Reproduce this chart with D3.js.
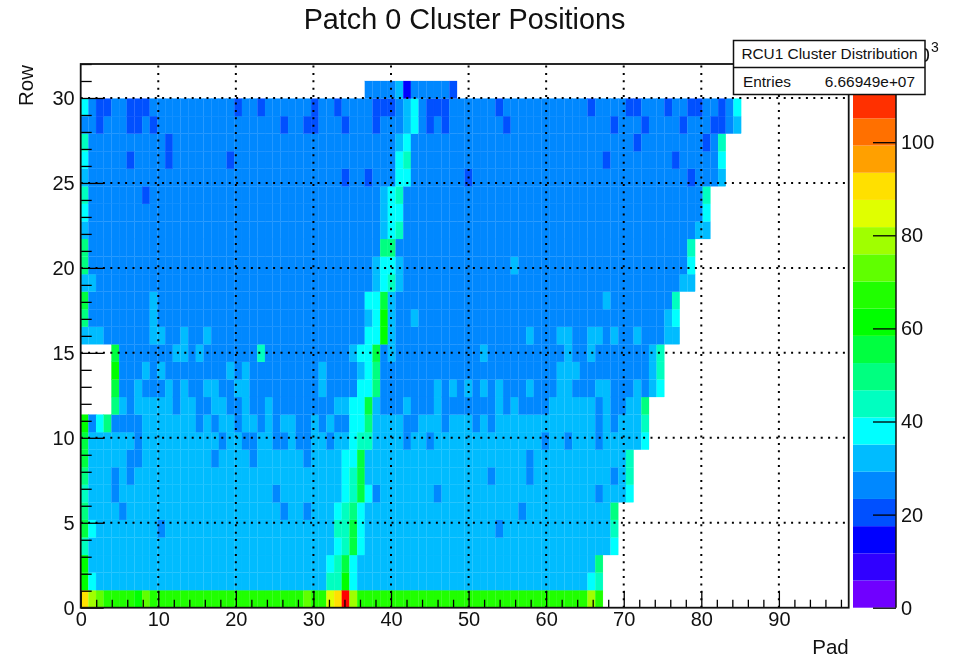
<!DOCTYPE html>
<html>
<head>
<meta charset="utf-8">
<title>Patch 0 Cluster Positions</title>
<script src="https://cdnjs.cloudflare.com/ajax/libs/d3/7.8.5/d3.min.js"></script>
<style>
body { margin: 0; background: #fff; }
svg { filter: blur(0.4px); }
text { font-family: "Liberation Sans", sans-serif; fill: #111; }
.domain { display: none; }
</style>
</head>
<body>
<div id="chart-area"></div>
<script>
var xTicks = [0, 10, 20, 30, 40, 50, 60, 70, 80, 90];
var yTicks = [0, 5, 10, 15, 20, 25, 30];
var zTicks = [0, 20, 40, 60, 80, 100];

var palette = ["#7000ff", "#3000ff", "#0000ff", "#0050ff", "#0088ff", "#00bcff", "#00ffff",
    "#00ffc0", "#00ff80", "#00ff40", "#00ff00", "#20ff00", "#60ff00", "#a0ff00", "#e0ff00",
    "#ffe000", "#ffa000", "#ff7000", "#ff3000", "#ff0000"];

// First and last filled bin, and usual level, for each row (bottom row first)
var rowFirst = [0,0,0,0,0,0,0,0,0,0,0,4,4,4,4,0,0,0,0,0,0,0,0,0,0,0,0,0,0,37];
var rowLast = [67,67,67,69,69,69,71,71,71,73,73,73,75,75,75,77,77,77,79,79,79,81,81,81,83,83,83,85,85,48];
var rowLevel = [67,32,32,32,32,32,32,32,32,32,32,26,26,26,26,26,26,26,26,26,26,26,26,26,26,26,26,26,26,26];

// Bins that differ from the row level: [value, [bins]]
var rowOutliers = [
    [[91,[0,33]], [79,[1,35,66]], [73,[2,8,29]], [61,[7]], [85,[32]], [114,[34]]],
    [[61,[0,34]], [38,[1,35,66]], [44,[32,33,67]]],
    [[61,[0]], [38,[32,35]], [44,[33]], [55,[34]], [50,[67]]],
    [[44,[0,34]], [38,[33,36,69]], [55,[35]]],
    [[55,[0,35]], [38,[1,36]], [26,[10,54]], [44,[33,34,69]]],
    [[50,[0,69]], [26,[5,26,29,57]], [38,[33,36]], [44,[34]], [50,[35]]],
    [[44,[0]], [26,[4,25,38,46,67]], [38,[34,37,71]], [44,[35]], [55,[36]]],
    [[50,[0]], [26,[4,6,53,58,69]], [38,[34]], [44,[35,71]], [55,[36]]],
    [[55,[0]], [26,[6,7,17,22,29,58]], [38,[34,35]], [55,[36]], [44,[71]]],
    [[55,[0]], [26,[7,18,21,22,25,26,28,29,32,42,45,60,63,67]], [38,[35,73]], [44,[36,37]]],
    [[61,[0]], [26,[1,4,5,6,7,15,17,20,23,25,28,29,31,33,34,42,43,47,51,53,67,69]], [38,[2,35,36]], [50,[3,37]], [44,[73]]],
    [[50,[4,73]], [32,[5,7,8,9,10,11,13,14,17,18,21,24,33,34,38,42,46,54,56,61,62,63,64,65,66,68,71,72]], [38,[35,36]], [55,[37]]],
    [[55,[4]], [32,[7,11,13,16,17,20,21,31,36,46,48,50,52,54,58,62,63,67,68,72,74]], [38,[36,37]], [50,[38]], [38,[75]]],
    [[61,[4]], [32,[8,10,19,21,31,36,62,63,64,74]], [38,[37]], [50,[38]], [44,[75]]],
    [[55,[4]], [32,[12,13,15,35,40,52,63,66,74]], [44,[23,75]], [38,[36,37]], [55,[38]]],
    [[32,[0,1,2,9,10,13,16,40,58,62,63,66,67,69,72,76,77]], [38,[37,38]], [61,[39]]],
    [[50,[0]], [32,[9,37,40,43,76]], [38,[38,77]], [61,[39]]],
    [[55,[0,39]], [32,[9,40,68]], [38,[37,38]], [44,[77]]],
    [[32,[0,1,38,41,78,79]], [38,[39]], [44,[40]]],
    [[50,[0]], [32,[38,41,56]], [38,[39,40,79]]],
    [[50,[0,39,40]], [44,[79]]],
    [[32,[0,39,80,81]], [38,[40]], [44,[41]]],
    [[38,[0,40,41,81]], [32,[39]]],
    [[44,[0,41,81]], [20,[8]], [32,[39]], [38,[40]]],
    [[32,[0,83]], [20,[34,37,50,79]], [38,[41,42]]],
    [[38,[0,41,83]], [20,[6,11,19,68,77]], [44,[42]]],
    [[44,[0,83]], [20,[11,72,81]], [32,[41]], [38,[42]]],
    [[20,[2,6,7,9,26,29,30,34,38,45,47,55,69,73,78,82,83]], [32,[42,85]], [38,[43]]],
    [[38,[0,43,85]], [20,[2,3,6,7,8,20,23,30,33,38,39,40,45,46,47,54,66,71,72,76,79,80,83]], [32,[42]]],
    [[32,[41]], [15,[42]], [20,[48]]]
];

var svgWidth = 955, svgHeight = 657;
var plot = { left: 80.7, right: 848.7, top: 64, bottom: 607.7 };
var bar = { left: 853, right: 896 };

var svg = d3.select("#chart-area")
    .append("svg")
    .attr("width", svgWidth)
    .attr("height", svgHeight)
    .style("display", "block");

// X Scale: 100 bins spread over 0..99
var xBins = 100;
var x = d3.scaleLinear().domain([0, 99]).range([plot.left, plot.right]);
var xBinWidth = 99 / xBins;

// Y Scale: 30 bins spread over 0..31
var yBins = 30;
var y = d3.scaleLinear().domain([0, 32]).range([plot.bottom, plot.top]);
var yBinHeight = 31 / yBins;

// Colour scale
var zMax = 116.8;
var color = d3.scaleQuantize().domain([0, zMax]).range(palette);
var z = d3.scaleLinear().domain([0, zMax]).range([plot.bottom, plot.top]);

// Flatten the rows into cells
var cells = [];
rowLevel.forEach(function(level, r) {
    d3.range(rowFirst[r], rowLast[r] + 1).forEach(function(b) {
        cells.push({ row: r, bin: b, value: level });
    });
    rowOutliers[r].forEach(function(group) {
        group[1].forEach(function(b) {
            cells.forEach(function(c) {
                if (c.row === r && c.bin === b) c.value = group[0];
            });
        });
    });
});

// thin stroke of the same colour keeps the seams between bins faint
svg.append("g").selectAll("rect")
    .data(cells)
    .enter()
    .append("rect")
    .attr("x", function(d) { return x(d.bin * xBinWidth); })
    .attr("y", function(d) { return y((d.row + 1) * yBinHeight); })
    .attr("width", x(xBinWidth) - x(0))
    .attr("height", y(0) - y(yBinHeight))
    .attr("fill", function(d) { return color(d.value); })
    .attr("stroke", function(d) { return color(d.value); })
    .attr("stroke-width", 0.2);

// Dotted grid
var grid = svg.append("g")
    .attr("fill", "none")
    .attr("stroke", "#000")
    .attr("stroke-width", 2)
    .attr("stroke-dasharray", "2 5.4");

grid.selectAll(".gx")
    .data(xTicks.slice(1))
    .enter()
    .append("line")
    .attr("x1", function(d) { return x(d); })
    .attr("x2", function(d) { return x(d); })
    .attr("y1", plot.bottom)
    .attr("y2", plot.top);

grid.selectAll(".gy")
    .data(yTicks.slice(1))
    .enter()
    .append("line")
    .attr("x1", plot.left)
    .attr("x2", plot.right)
    .attr("y1", function(d) { return y(d); })
    .attr("y2", function(d) { return y(d); });

// X Axis
var xMinor = d3.range(0, 99, 2).filter(function(d) { return d % 10 !== 0; });
svg.append("g")
    .attr("transform", "translate(0," + plot.bottom + ")")
    .call(d3.axisBottom(x).tickValues(xMinor).tickSize(-8).tickFormat(""));

var xAxis = svg.append("g")
    .attr("transform", "translate(0," + plot.bottom + ")")
    .call(d3.axisBottom(x).tickValues(xTicks).tickSize(-17).tickPadding(4));

// Y Axis
var yMinor = d3.range(0, 33).filter(function(d) { return d % 5 !== 0; });
svg.append("g")
    .attr("transform", "translate(" + plot.left + ",0)")
    .call(d3.axisLeft(y).tickValues(yMinor).tickSize(-11).tickFormat(""));

var yAxis = svg.append("g")
    .attr("transform", "translate(" + plot.left + ",0)")
    .call(d3.axisLeft(y).tickValues(yTicks).tickSize(-23).tickPadding(6));

svg.selectAll(".tick line").attr("stroke", "#000").attr("stroke-width", 1.3);
svg.selectAll(".tick text").attr("font-size", 20).attr("fill", "#111")
    .attr("font-family", "Liberation Sans");

// Frame
svg.append("rect")
    .attr("x", plot.left)
    .attr("y", plot.top)
    .attr("width", plot.right - plot.left)
    .attr("height", plot.bottom - plot.top)
    .attr("fill", "none")
    .attr("stroke", "#111")
    .attr("stroke-width", 1.8);

// Colour bar
svg.append("g").selectAll("rect")
    .data(palette)
    .enter()
    .append("rect")
    .attr("x", bar.left)
    .attr("width", bar.right - bar.left)
    .attr("y", function(d, i) { return z((i + 1) * zMax / palette.length); })
    .attr("height", (plot.bottom - plot.top) / palette.length)
    .attr("fill", function(d) { return d; });

var zAxis = svg.append("g")
    .attr("transform", "translate(" + bar.right + ",0)")
    .call(d3.axisRight(z).tickValues(zTicks).tickSize(0).tickPadding(5));

zAxis.selectAll(".tick line")
    .attr("x2", -23)
    .attr("stroke", "#000")
    .attr("stroke-width", 1.3);
zAxis.selectAll(".tick text").attr("font-size", 20).attr("fill", "#111")
    .attr("font-family", "Liberation Sans");

svg.append("line")
    .attr("x1", bar.right)
    .attr("x2", bar.right)
    .attr("y1", plot.top)
    .attr("y2", plot.bottom)
    .attr("stroke", "#111")
    .attr("stroke-width", 1.5);

// Exponent of the colour axis, mostly hidden by the stats box
svg.append("text")
    .attr("x", 930)
    .attr("y", 62)
    .attr("text-anchor", "end")
    .attr("font-size", 20)
    .text("\u00d710");

svg.append("text")
    .attr("x", 931)
    .attr("y", 52)
    .attr("font-size", 14)
    .text("3");

// Labels
svg.append("text")
    .attr("x", 464.5)
    .attr("y", 29)
    .attr("text-anchor", "middle")
    .attr("font-size", 28.8)
    .text("Patch 0 Cluster Positions");

svg.append("text")
    .attr("x", plot.right)
    .attr("y", 654)
    .attr("text-anchor", "end")
    .attr("font-size", 20.5)
    .text("Pad");

svg.append("text")
    .attr("transform", "translate(33,65) rotate(-90)")
    .attr("text-anchor", "end")
    .attr("font-size", 20.5)
    .text("Row");

// Stats box
var stats = svg.append("g");

stats.append("rect")
    .attr("x", 733.5)
    .attr("y", 40.5)
    .attr("width", 191.5)
    .attr("height", 54)
    .attr("fill", "#fff")
    .attr("stroke", "#111")
    .attr("stroke-width", 1.5);

stats.append("line")
    .attr("x1", 733.5)
    .attr("x2", 925)
    .attr("y1", 67.5)
    .attr("y2", 67.5)
    .attr("stroke", "#111")
    .attr("stroke-width", 1.5);

stats.append("text")
    .attr("x", 829.5)
    .attr("y", 59)
    .attr("text-anchor", "middle")
    .attr("font-size", 15.4)
    .text("RCU1 Cluster Distribution");

stats.append("text")
    .attr("x", 743)
    .attr("y", 87)
    .attr("font-size", 15.4)
    .text("Entries");

stats.append("text")
    .attr("x", 915)
    .attr("y", 87)
    .attr("text-anchor", "end")
    .attr("font-size", 15.4)
    .text("6.66949e+07");
</script>
</body>
</html>
